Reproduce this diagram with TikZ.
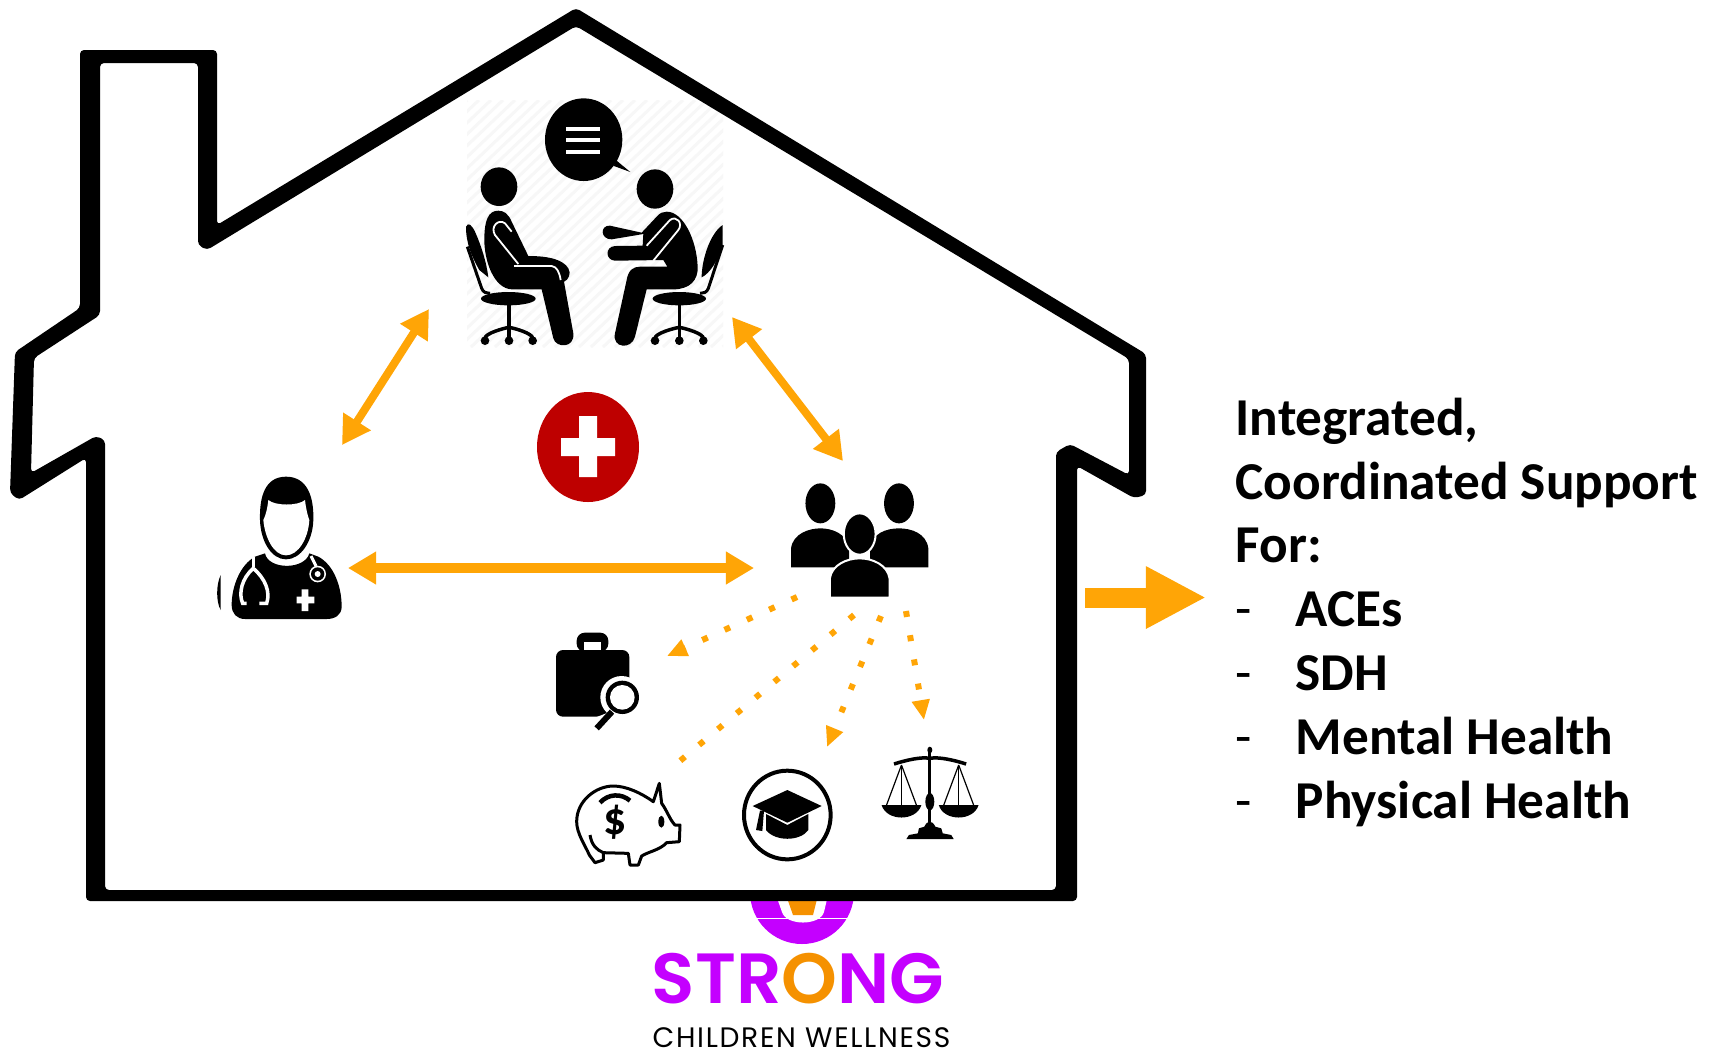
\documentclass[tikz,border=0pt]{standalone}
\usepackage{fontspec}
\setmainfont{Carlito}
\newfontfamily\logofont[LetterSpace=6]{Poppins}
\newfontfamily\logobold{Poppins SemiBold}
\usetikzlibrary{arrows.meta}
\definecolor{arrowcol}{HTML}{FFA506}
\definecolor{logopurple}{HTML}{C400FF}
\definecolor{logoorange}{HTML}{F59100}
\definecolor{crossred}{HTML}{BE0000}
\tikzset{
    twoway/.style={{Triangle[length=0.28cm,width=0.31cm]}-{Triangle[length=0.28cm,width=0.31cm]},arrowcol,line width=0.08cm},
    dotline/.style={arrowcol,line width=0.06cm,dash pattern=on 0.06cm off 0.185cm},
    dothead/.style={dotline,-{Triangle[length=0.2cm,width=0.17cm]}},
    listtext/.style={anchor=base west,inner sep=0pt,font=\fontsize{15.15}{18}\selectfont\bfseries},
    listdash/.style={anchor=base west,inner sep=0pt,font=\fontsize{15.15}{18}\selectfont},
    wheel/.style={fill=black},
}
\begin{document}
\begin{tikzpicture}[x=0.01cm,y=-0.01cm]
    \useasboundingbox (0,0) rectangle (1717,1050);

    % logo behind the house
    \fill[logopurple] (802,892) circle (52);
    \fill[white] (750,917.5) rectangle (855,919);
    \fill[white] (776,895) -- (828,895) -- (824,912) .. controls (820,926) and (786,926) .. (782,912) -- cycle;
    \fill[logoorange] (786,895) -- (818,895) -- (813,915) -- (793,915) -- cycle;
    \node (strong) at (798,1003) [anchor=base,inner sep=0pt,font=\logobold\fontsize{20.2}{24}\selectfont,text=logopurple] {STR\textcolor{logoorange}{O}NG};
    \node (children) at (801.5,1047) [anchor=base,inner sep=0pt,font=\logofont\fontsize{8}{10}\selectfont] {CHILDREN WELLNESS};

    % house, inside
    \fill[white] (100,63) -- (198,63) -- (198,245) -- (207,250) -- (576,26) -- (1129,359) -- (1129,475) -- (1070,444) -- (1056,452) -- (1056,890) -- (105,890) -- (105,440) -- (96,436) -- (31,473) -- (34,358) -- (100,315) -- cycle;

    % meeting, the people
    \begin{scope}
        \clip (467,100) rectangle (723,347);
        \foreach \d in {0,12,...,520}
            \draw[black!3,line width=0.03cm] (467+\d-260,347) -- (467+\d,100);
    \end{scope}

    % house
    \fill[black,even odd rule,rounded corners=0.04cm]
        (80,50) -- (217,50) -- (217,225) -- (576,8) -- (1146,354) -- (1146,495) -- (1134,498) -- (1077,466) -- (1077,901) -- (86,901) -- (86,458) -- (19,500) -- (10,493) -- (15,352) -- (80,308) -- cycle
        (100,63) -- (198,63) -- (198,245) -- (207,250) -- (576,26) -- (1129,359) -- (1129,475) -- (1070,444) -- (1056,452) -- (1056,890) -- (105,890) -- (105,440) -- (96,436) -- (31,473) -- (34,358) -- (100,315) -- cycle;

    \begin{scope}[shift={(440,80)},scale=1/3]
        % bubble
        \fill (431,179) circle[x radius=116,y radius=124];
        \fill (525,238) -- (571,276) -- (522,258) -- cycle;
        \foreach \y in {148,180,215}
            \fill[white] (378,\y-6) rectangle (480,\y+6);
        % left one
        \fill (177,320) circle[x radius=55,y radius=58];
        \fill (175,392) .. controls (145,392) and (133,420) .. (133,480) .. controls (133,540) and (160,625) .. (215,628) -- (305,628) -- (340,775) .. controls (348,805) and (405,805) .. (400,760) -- (372,605) .. controls (385,600) and (395,580) .. (385,565) .. controls (370,540) and (330,528) .. (265,528) -- (215,425) .. controls (205,400) and (190,392) .. (175,392) -- cycle;
        \draw[white,line width=0.018cm] (235,552) -- (165,465) .. controls (150,440) and (175,415) .. (195,430) -- (215,455);
        \draw[white,line width=0.018cm] (222,558) -- (335,558) .. controls (350,560) and (358,575) .. (362,600);
        \fill (78,440) .. controls (85,425) and (95,435) .. (105,455) .. controls (125,500) and (140,550) .. (145,592) -- (118,570) .. controls (95,530) and (78,490) .. (78,440) -- cycle;
        \draw[line width=0.03cm] (82,500) -- (125,625) .. controls (130,638) and (140,640) .. (150,640);
        \fill (205,656) circle[x radius=82,y radius=20];
        \draw[line width=0.035cm] (207,670) -- (207,775);
        \draw[line width=0.035cm] (135,775) .. controls (135,760) and (190,745) .. (207,742) .. controls (225,745) and (278,760) .. (278,775);
        \foreach \x in {135,207,278}
            \fill[wheel] (\x,782) circle (13);
        % right one
        \fill (645,327) circle[x radius=55,y radius=59];
        \fill (680,395) .. controls (730,395) and (770,480) .. (773,560) .. controls (775,600) and (750,628) .. (700,628) -- (620,628) -- (585,770) .. controls (575,810) and (515,805) .. (525,760) -- (560,600) .. controls (565,570) and (580,560) .. (600,560) -- (682,560) -- (670,540) -- (525,542) .. controls (495,540) and (495,500) .. (525,498) -- (608,497) -- (610,462) -- (515,478) .. controls (480,478) and (480,435) .. (510,437) -- (605,458) -- (650,410) .. controls (660,398) and (670,395) .. (680,395) -- cycle;
        \draw[white,line width=0.018cm] (620,497) -- (690,420) .. controls (710,405) and (730,430) .. (715,450) -- (640,542);
        \fill (848,435) -- (848,495) .. controls (835,540) and (810,580) .. (785,592) .. controls (785,540) and (810,460) .. (848,435) -- cycle;
        \draw[line width=0.03cm] (848,495) -- (805,625) .. controls (800,638) and (790,640) .. (780,640);
        \fill (718,656) circle[x radius=80,y radius=20];
        \draw[line width=0.035cm] (718,670) -- (718,775);
        \draw[line width=0.035cm] (645,775) .. controls (645,760) and (700,745) .. (718,742) .. controls (735,745) and (790,760) .. (790,775);
        \foreach \x in {645,718,790}
            \fill[wheel] (\x,782) circle (13);
    \end{scope}

    % red cross
    \fill[crossred] (588,447) circle[x radius=51,y radius=55];
    \fill[white] (561,438) -- (579,438) -- (579,416) -- (597,416) -- (597,438) -- (615,438) -- (615,456) -- (597,456) -- (597,477) -- (579,477) -- (579,456) -- (561,456) -- cycle;

    % doctor
    \begin{scope}[shift={(210,470)},scale=1/3]
        \fill (228,20) .. controls (165,20) and (148,80) .. (150,150) .. controls (152,215) and (185,268) .. (228,268) .. controls (272,268) and (308,215) .. (310,150) .. controls (312,80) and (292,20) .. (228,20) -- cycle;
        \fill[white] (175,90) .. controls (195,108) and (265,108) .. (285,90) .. controls (287,110) and (292,135) .. (298,150) .. controls (295,205) and (265,256) .. (228,256) .. controls (192,256) and (165,205) .. (160,150) .. controls (168,135) and (173,110) .. (175,90) -- cycle;
        \fill (135,260) -- (165,250) .. controls (175,300) and (285,300) .. (298,250) -- (325,260) .. controls (372,285) and (395,350) .. (395,410) .. controls (395,435) and (375,447) .. (350,447) -- (105,447) .. controls (80,447) and (65,430) .. (65,405) .. controls (65,350) and (90,285) .. (135,260) -- cycle;
        \fill (32,315) .. controls (18,345) and (18,395) .. (32,420) -- cycle;
        \draw[white,line width=0.035cm] (130,262) -- (130,292);
        \draw[white,line width=0.035cm] (110,400) -- (98,400) .. controls (85,370) and (95,325) .. (130,295) .. controls (165,325) and (182,365) .. (170,400) -- (148,400);
        \draw[white,line width=0.03cm] (303,258) -- (318,288);
        \fill[white] (323,312) circle (25);
        \fill (323,312) circle (20);
        \fill[white] (323,312) circle (9);
        \fill[white] (260,380) -- (275,380) -- (275,358) -- (295,358) -- (295,380) -- (313,380) -- (313,400) -- (295,400) -- (295,423) -- (275,423) -- (275,400) -- (260,400) -- cycle;
    \end{scope}

    % family
    \begin{scope}[shift={(200,450)},xscale=1/2.01,yscale=1/3]
        \fill (1247,160) circle[x radius=30,y radius=60];
        \fill (1405,160) circle[x radius=30,y radius=60];
        \fill (1188,352) -- (1188,295) .. controls (1192,250) and (1225,235) .. (1247,235) .. controls (1270,235) and (1300,250) .. (1305,295) -- (1305,352) -- cycle;
        \fill (1464,352) -- (1464,295) .. controls (1460,250) and (1430,235) .. (1405,235) .. controls (1380,235) and (1350,250) .. (1347,295) -- (1347,352) -- cycle;
        \filldraw[draw=white,line width=0.02cm] (1326,252) circle[x radius=32,y radius=62];
        \filldraw[draw=white,line width=0.02cm] (1266,443) -- (1266,385) .. controls (1270,345) and (1300,325) .. (1326,325) .. controls (1352,325) and (1382,345) .. (1386,385) -- (1386,443) -- cycle;
    \end{scope}

    % briefcase
    \begin{scope}[shift={(540,620)},scale=1/3]
        \fill[rounded corners=0.08cm] (110,95) -- (110,38) -- (205,38) -- (205,95) -- cycle;
        \fill[white] (133,67) rectangle (183,92);
        \fill[rounded corners=0.07cm] (48,90) rectangle (268,290);
        \fill[white] (245,232) circle (64);
        \fill[white] (120,310) -- (120,345) -- (215,345) -- (225,270) -- cycle;
        \fill (247,232) circle (50);
        \fill[white] (247,232) circle (37);
        \draw[line width=0.06cm] (216,275) -- (170,325);
    \end{scope}

    % piggy, cap
    \begin{scope}[shift={(560,770)},scale=1/3]
        \draw[line width=0.03cm,line join=round] (280,95) -- (298,40) -- (305,100) .. controls (320,120) and (330,150) .. (345,165) -- (360,165) -- (358,215) -- (320,218) .. controls (300,240) and (265,245) .. (245,258) -- (235,285) -- (210,285) -- (205,250) -- (130,248) -- (130,270) -- (105,278) -- (88,255) .. controls (75,225) and (50,190) .. (50,155) .. controls (50,90) and (110,48) .. (160,48) .. controls (200,48) and (245,70) .. (280,95) -- cycle;
        \draw[line width=0.03cm] (90,195) .. controls (95,225) and (110,240) .. (130,248);
        \draw[line width=0.045cm] (120,98) .. controls (145,70) and (185,70) .. (210,92);
        \node (dollar) at (165,158) [inner sep=0pt,font=\fontsize{13}{15}\selectfont\bfseries] {\$};
        \fill (304,155) circle[x radius=9,y radius=18];
        \draw[line width=0.04cm] (682,135) circle[x radius=130,y radius=133];
        \fill (578,108) -- (682,60) -- (785,108) -- (682,158) -- cycle;
        \fill (618,132) -- (682,165) -- (745,132) -- (745,180) .. controls (720,215) and (645,215) .. (618,180) -- cycle;
        \fill (600,122) -- (612,122) -- (607,183) -- (588,180) -- cycle;
    \end{scope}

    % scales
    \begin{scope}[shift={(200,450)},xscale=1/2.01,yscale=1/3]
        \fill (1464,900) -- (1470,900) -- (1470,1150) -- (1464,1150) -- cycle;
        \fill (1467,900) circle[x radius=5,y radius=10];
        \draw[line width=0.035cm] (1395,942) .. controls (1420,930) and (1450,920) .. (1467,925) .. controls (1485,920) and (1515,930) .. (1540,942);
        \foreach \c in {1410,1525} {
            \draw[line width=0.012cm] (\c,945) -- (\c-30,1065) (\c,945) -- (\c+30,1065);
            \draw[line width=0.012cm] (\c,950) -- (\c,1065);
            \fill (\c-40,1065) -- (\c+40,1065) .. controls (\c+30,1115) and (\c-30,1115) .. (\c-40,1065) -- cycle;
        }
        \fill (1467,1055) circle[x radius=9,y radius=26];
        \fill (1420,1167) -- (1425,1155) -- (1443,1150) -- (1445,1135) -- (1456,1130) .. controls (1462,1110) and (1472,1110) .. (1478,1130) -- (1490,1135) -- (1493,1150) -- (1510,1155) -- (1515,1167) -- cycle;
    \end{scope}

    % arrows
    \coordinate (meetLeft) at (429,309);
    \coordinate (docTop) at (342,445);
    \coordinate (meetRight) at (732,317);
    \coordinate (famTop) at (843,461);
    \coordinate (docRight) at (348,568);
    \coordinate (famLeft) at (754,568);
    \draw[twoway] (docTop) -- (meetLeft);
    \draw[twoway] (meetRight) -- (famTop);
    \draw[twoway,line width=0.1cm] (docRight) -- (famLeft);

    \coordinate (famA) at (797,597);
    \coordinate (caseTop) at (667,656);
    \coordinate (famB) at (854,615);
    \coordinate (pigTop) at (668,771);
    \coordinate (famC) at (881,616);
    \coordinate (capTop) at (827,747);
    \coordinate (famD) at (906,611);
    \coordinate (scaleTop) at (924,720);
    \draw[dothead] (famA) -- (caseTop);
    \draw[dotline] (famB) -- (pigTop);
    \draw[dothead] (famC) -- (capTop);
    \draw[dothead] (famD) -- (scaleTop);

    \coordinate (wallOut) at (1085,597.5);
    \coordinate (listIn) at (1206,597.5);
    \draw[-{Triangle[length=0.6cm,width=0.58cm]},arrowcol,line width=0.2cm] (wallOut) -- (listIn);

    % list
    \node (integrated) at (1235,435) [listtext] {Integrated,};
    \node (coordinated) at (1235,499) [listtext] {Coordinated Support};
    \node (forline) at (1235,562) [listtext] {For:};
    \foreach \y/\t [count=\i] in {626/ACEs,690/SDH,754/Mental Health,818/Physical Health} {
        \node (dash\i) at (1235,\y) [listdash] {-};
        \node (item\i) at (1295,\y) [listtext] {\t};
    }
\end{tikzpicture}
\end{document}
